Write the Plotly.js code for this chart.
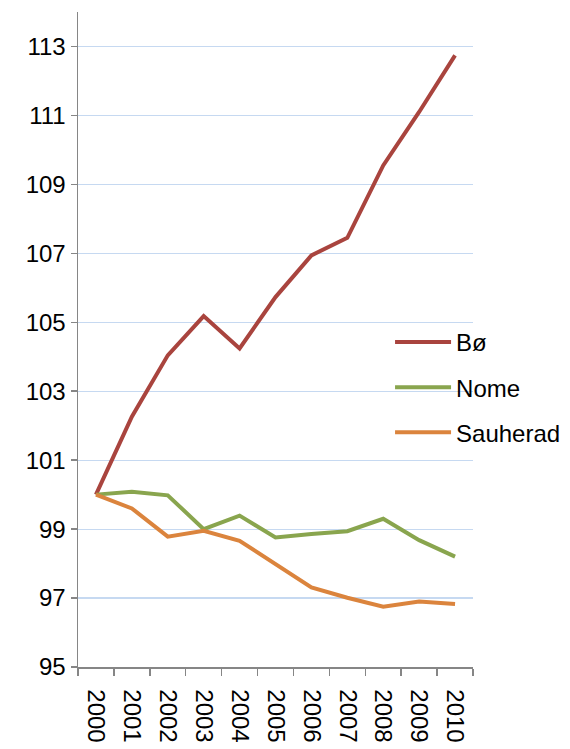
<!DOCTYPE html>
<html>
<head>
<meta charset="utf-8">
<script src="https://cdn.plot.ly/plotly-3.0.1.min.js"></script>
<style>html,body{margin:0;padding:0;background:#fff;}#chart{width:570px;height:749px;}</style>
</head>
<body>
<div id="chart"></div>
<script>
const years = ["2000","2001","2002","2003","2004","2005","2006","2007","2008","2009","2010"];
const bo = [100, 102.26, 104.04, 105.18, 104.24, 105.73, 106.94, 107.45, 109.55, 111.1, 112.74];
const nome = [100, 100.08, 99.98, 99.0, 99.39, 98.76, 98.86, 98.94, 99.30, 98.68, 98.20];
const sauherad = [100, 99.6, 98.78, 98.95, 98.66, 98.0, 97.31, 97.01, 96.75, 96.90, 96.83];
const names = ["Bø", "Nome", "Sauherad"];
const colors = ["#a9443e", "#89a54e", "#db843d"];

const series = [bo, nome, sauherad];
const traces = series.map((s, i) => ({
  x: years, y: s, type: "scatter", mode: "lines", name: names[i],
  legendgroup: "g" + i,
  line: {color: colors[i], width: 4}
}));

const layout = {
  width: 570, height: 749,
  margin: {l: 78, r: 97, t: 12, b: 82, autoexpand: false},
  paper_bgcolor: "#fff", plot_bgcolor: "#fff",
  font: {family: "Liberation Sans, Arial, sans-serif", size: 24, color: "#000"},
  showlegend: true,
  legend: {
    x: 0.79, y: 0.53, xanchor: "left", yanchor: "top",
    bgcolor: "rgba(0,0,0,0)", font: {size: 24},
    traceorder: "grouped", tracegroupgap: 11, itemwidth: 56
  },
  xaxis: {
    type: "category", range: [-0.5, 10.5], automargin: false,
    showline: true, linecolor: "#868686", linewidth: 1.5,
    ticks: "outside", tickson: "boundaries", ticklen: 7, tickcolor: "#868686", tickwidth: 1.5,
    tickangle: 90, showgrid: false, zeroline: false,
    ticklabelstandoff: 16,
    tickfont: {size: 24}
  },
  yaxis: {
    range: [95, 114], tick0: 95, dtick: 2, automargin: false,
    showline: true, linecolor: "#868686", linewidth: 1.5,
    ticks: "outside", ticklen: 6, tickcolor: "#868686", tickwidth: 1.5,
    showgrid: true, gridcolor: "#c6d9f1", gridwidth: 1.2, zeroline: false,
    tickfont: {size: 24}
  }
};

Plotly.newPlot("chart", traces, layout, {displayModeBar: false, staticPlot: true});
</script>
</body>
</html>
